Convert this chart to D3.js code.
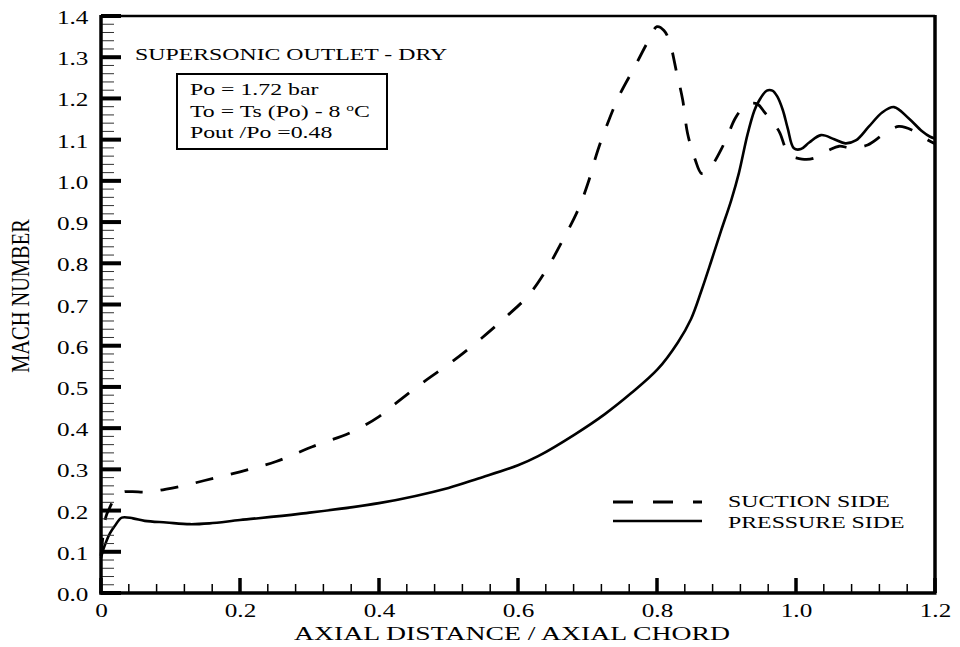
<!DOCTYPE html>
<html>
<head>
  <meta charset="utf-8">
  <style>
    body { margin: 0; background: #fff; }
    text { font-family: "Liberation Serif", "Times New Roman", serif; fill: #000; }
    .domain { display: none; }
  </style>
</head>
<body>
  <script src="https://d3js.org/d3.v7.min.js"></script>
  <svg width="960" height="647"></svg>

  <script>
    // ---- data ----
    var suctionX = [0, 0.003, 0.007, 0.012, 0.017, 0.024, 0.032, 0.045, 0.067, 0.094, 0.123, 0.149, 0.2, 0.252,
      0.304, 0.36, 0.4, 0.424, 0.465, 0.505, 0.546, 0.582, 0.615, 0.641, 0.665, 0.687, 0.701, 0.715, 0.73,
      0.746, 0.768, 0.787, 0.8, 0.81, 0.818, 0.828, 0.837, 0.844, 0.855, 0.864, 0.872, 0.88, 0.892, 0.902,
      0.912, 0.923, 0.935, 0.945, 0.954, 0.963, 0.976, 0.985, 0.993, 1.0, 1.015, 1.028, 1.048, 1.062, 1.079,
      1.103, 1.126, 1.148, 1.172, 1.191, 1.2];
    var suctionMach = [0.09, 0.14, 0.185, 0.205, 0.222, 0.236, 0.245, 0.246, 0.245, 0.252, 0.262, 0.273, 0.294, 0.319,
      0.355, 0.39, 0.428, 0.46, 0.513, 0.561, 0.616, 0.669, 0.722, 0.785, 0.858, 0.932, 0.996, 1.075, 1.144,
      1.208, 1.277, 1.338, 1.374, 1.365, 1.338, 1.265, 1.196, 1.115, 1.051, 1.018, 1.022, 1.039, 1.075, 1.111,
      1.15, 1.176, 1.188, 1.186, 1.168, 1.149, 1.119, 1.079, 1.06, 1.056, 1.052, 1.056, 1.075, 1.084, 1.08,
      1.087, 1.113, 1.132, 1.119, 1.098, 1.09];

    var pressureX = [0, 0.003, 0.008, 0.013, 0.02, 0.03, 0.046, 0.063, 0.094, 0.128, 0.156, 0.2, 0.285, 0.4, 0.5,
      0.543, 0.6, 0.629, 0.682, 0.725, 0.763, 0.801, 0.83, 0.849, 0.864, 0.878, 0.892, 0.907, 0.918, 0.93,
      0.94, 0.947, 0.958, 0.966, 0.973, 0.981, 0.988, 0.997, 1.007, 1.019, 1.036, 1.055, 1.071, 1.086, 1.105,
      1.124, 1.141, 1.162, 1.181, 1.193, 1.2];
    var pressureMach = [0.085, 0.104, 0.127, 0.145, 0.163, 0.183, 0.181, 0.175, 0.171, 0.167, 0.169, 0.177, 0.192, 0.218, 0.255,
      0.278, 0.31, 0.332, 0.385, 0.434, 0.485, 0.543, 0.608, 0.665, 0.734, 0.805, 0.878, 0.954, 1.02, 1.111,
      1.17, 1.195, 1.219, 1.219, 1.205, 1.172, 1.128, 1.079, 1.077, 1.093, 1.111, 1.101, 1.091, 1.098, 1.132,
      1.166, 1.179, 1.152, 1.121, 1.107, 1.103];

    var xTicks = [0, 0.2, 0.4, 0.6, 0.8, 1.0, 1.2];
    var xTickLabels = ["0", "0.2", "0.4", "0.6", "0.8", "1.0", "1.2"];
    var xMinor = d3.range(1, 30).map(function(i) { return i * 0.04; }).filter(function(v) { return v < 1.19; });
    var yTicks = [0, 0.1, 0.2, 0.3, 0.4, 0.5, 0.6, 0.7, 0.8, 0.9, 1.0, 1.1, 1.2, 1.3, 1.4];
    var yMinor = d3.range(1, 70).map(function(i) { return i * 0.02; });

    var seriesNames = ["SUCTION SIDE", "PRESSURE SIDE"];
    var titleText = "SUPERSONIC OUTLET - DRY";
    var xTitle = "AXIAL DISTANCE / AXIAL CHORD";
    var yTitle = "MACH NUMBER";

    // ---- layout ----
    var svg = d3.select("svg"),
        margin = {top: 16, right: 25, bottom: 54, left: 101},
        width = 960 - margin.left - margin.right,
        height = 647 - margin.top - margin.bottom;
    var SX = 1.4; // glyphs in the reference are stretched horizontally

    var x = d3.scaleLinear().domain([0, 1.2]).range([0, width]),
        y = d3.scaleLinear().domain([0, 1.4]).range([height, 0]);

    var g = svg.append("g")
        .attr("transform", "translate(" + margin.left + "," + margin.top + ")");

    function label(parent, px, py, str, size, anchor) {
      return parent.append("text")
        .attr("transform", "translate(" + px + "," + py + ") scale(" + SX + ",1)")
        .attr("text-anchor", anchor || "start")
        .style("font-size", size + "px")
        .text(str);
    }

    // tick labels through d3 axes
    var yAxis = g.append("g")
      .call(d3.axisLeft(y).tickValues(yTicks).tickSize(0).tickPadding(9).tickFormat(d3.format(".1f")));
    yAxis.selectAll("text")
      .style("font-size", "18px")
      .attr("dy", "0.42em")
      .attr("transform", "scale(" + SX + ",1)");

    var xAxis = g.append("g")
      .attr("transform", "translate(0," + height + ")")
      .call(d3.axisBottom(x).tickValues(xTicks).tickSize(0).tickPadding(11)
        .tickFormat(function(d, i) { return xTickLabels[i]; }));
    xAxis.selectAll("text")
      .style("font-size", "18px")
      .attr("transform", "scale(" + SX + ",1)");

    // curves
    var lineGen = d3.line()
      .x(function(d) { return x(d[0]); })
      .y(function(d) { return y(d[1]); })
      .curve(d3.curveCatmullRom.alpha(0.5));

    var plot = g.append("g");
    plot.append("path")
      .datum(d3.zip(pressureX, pressureMach))
      .attr("d", lineGen)
      .attr("fill", "none").attr("stroke", "#000").attr("stroke-width", 2.6)
      .attr("stroke-linejoin", "round");
    plot.append("path")
      .datum(d3.zip(suctionX, suctionMach))
      .attr("d", lineGen)
      .attr("fill", "none").attr("stroke", "#000").attr("stroke-width", 2.8)
      .attr("stroke-dasharray", "18,18");

    // axis titles
    label(svg, 512, 640, xTitle, 19.8, "middle");
    svg.append("text")
      .attr("transform", "translate(29,296) scale(1.24,1) rotate(-90)")
      .attr("text-anchor", "middle")
      .style("font-size", "20.4px")
      .text(yTitle);

    // annotations
    label(svg, 135, 60, titleText, 17);
    svg.append("rect")
      .attr("x", 177).attr("y", 74).attr("width", 210).attr("height", 75)
      .attr("fill", "none").attr("stroke", "#000").attr("stroke-width", 2);
    label(svg, 190, 95, "Po = 1.72 bar", 17);
    var t2 = label(svg, 190, 117, "To = Ts (Po) - 8 ", 17);
    t2.append("tspan").attr("dy", -6).style("font-size", "11px").text("o");
    t2.append("tspan").attr("dy", 6).text("C");
    label(svg, 190, 138, "Pout /Po =0.48", 17);

    // legend
    var leg = svg.append("g");
    leg.append("line").attr("x1", 613).attr("x2", 702).attr("y1", 502).attr("y2", 502)
      .attr("stroke", "#000").attr("stroke-width", 2.8).attr("stroke-dasharray", "20,20");
    leg.append("line").attr("x1", 613).attr("x2", 702).attr("y1", 521).attr("y2", 521)
      .attr("stroke", "#000").attr("stroke-width", 2.6);
    label(leg, 728, 507, seriesNames[0], 17);
    label(leg, 728, 528, seriesNames[1], 17);

    // frame and inward tick marks, drawn last so nothing sits over them
    var frameG = svg.append("g")
        .attr("transform", "translate(" + margin.left + "," + margin.top + ")");
    frameG.selectAll(".ymin").data(yMinor).enter().append("rect")
      .attr("class", "ymin")
      .attr("x", 0).attr("width", 13)
      .attr("y", function(d) { return y(d) - 0.5; }).attr("height", 1)
      .attr("fill", "#333");
    frameG.selectAll(".xmin").data(xMinor).enter().append("rect")
      .attr("class", "xmin")
      .attr("x", function(d) { return x(d) - 0.75; }).attr("width", 1.5)
      .attr("y", height - 9).attr("height", 9)
      .attr("fill", "#000");
    frameG.selectAll(".ymaj").data(yTicks).enter().append("rect")
      .attr("class", "ymaj")
      .attr("x", 0).attr("width", 20)
      .attr("y", function(d) { return y(d) - 2; }).attr("height", 4)
      .attr("fill", "#000");
    frameG.selectAll(".xmaj").data(xTicks).enter().append("rect")
      .attr("class", "xmaj")
      .attr("x", function(d) { return x(d) - 1.75; }).attr("width", 3.5)
      .attr("y", height - 15).attr("height", 15)
      .attr("fill", "#000");

    frameG.append("line").attr("x1", 0).attr("x2", width).attr("y1", 0).attr("y2", 0)
      .style("stroke", "#000").style("stroke-width", "2.5px");
    frameG.append("line").attr("x1", width).attr("x2", width).attr("y1", -1).attr("y2", height)
      .style("stroke", "#000").style("stroke-width", "3.5px");
    frameG.append("line").attr("x1", 0).attr("x2", 0).attr("y1", -1).attr("y2", height + 1.5)
      .style("stroke", "#000").style("stroke-width", "3.5px");
    frameG.append("line").attr("x1", -1.5).attr("x2", width + 1.5).attr("y1", height).attr("y2", height)
      .style("stroke", "#000").style("stroke-width", "3.5px");
  </script>
</body>
</html>
